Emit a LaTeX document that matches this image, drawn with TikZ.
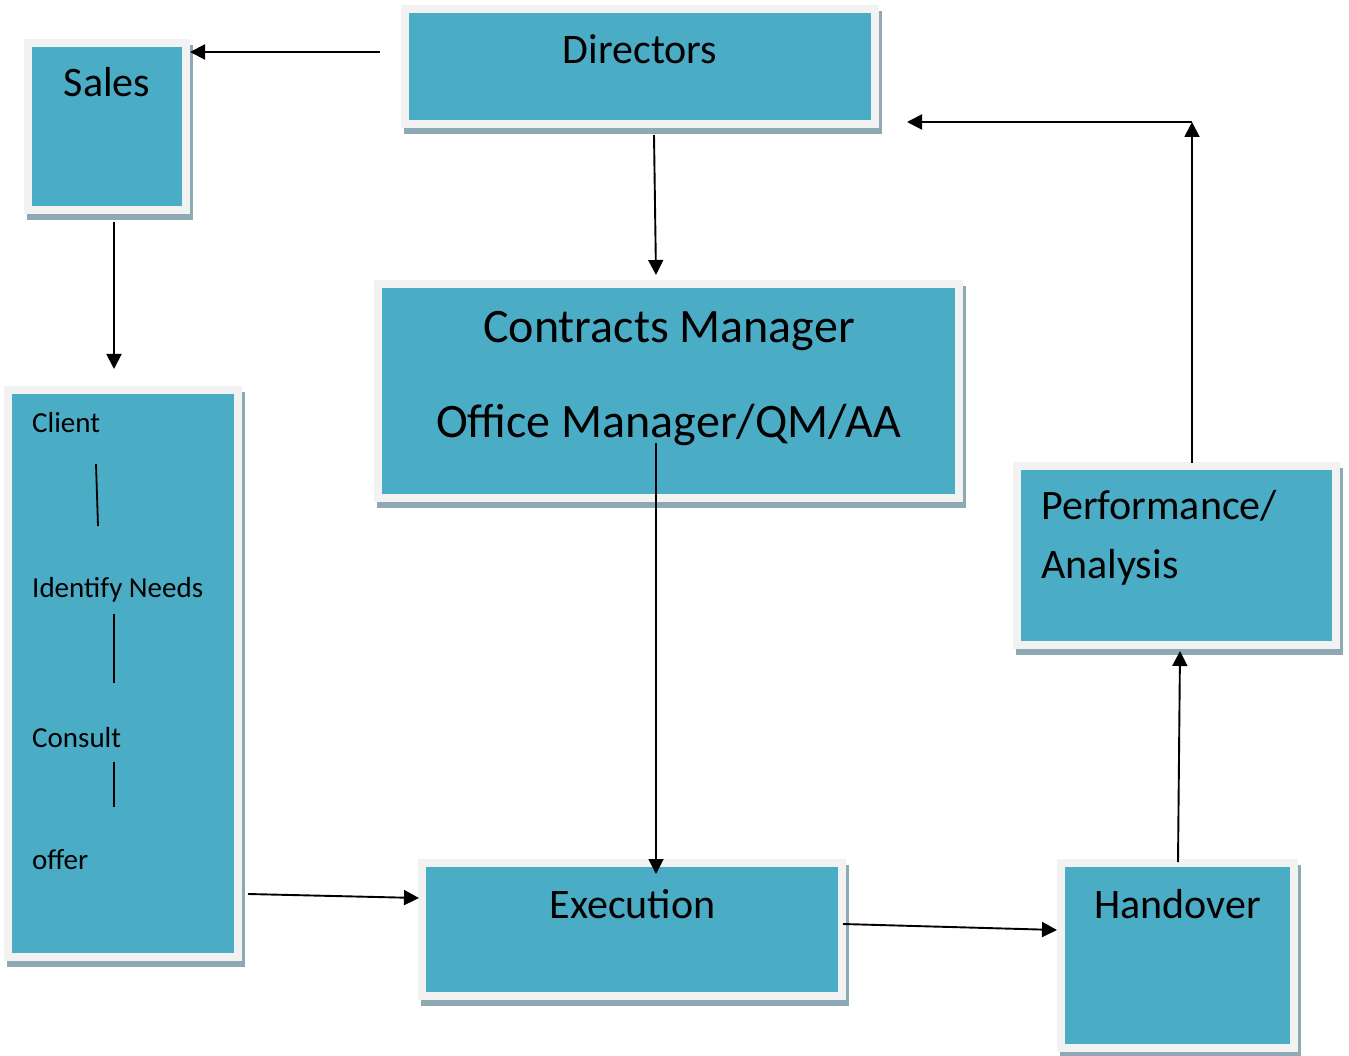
\documentclass[tikz,border=0pt]{standalone}
\usepackage{fontspec}
\setmainfont{Carlito}
\usetikzlibrary{arrows.meta}
\definecolor{teal}{HTML}{4BACC6}
\definecolor{rim}{HTML}{F2F2F2}
\definecolor{shade}{HTML}{8DA9B3}
\tikzset{
  box/.style={rectangle, fill=teal, draw=rim, line width=8pt, inner sep=0pt,
    preaction={draw=shade, fill=shade, line width=8pt, transform canvas={xshift=3pt, yshift=-6pt}}},
  big/.style={inner sep=0pt, anchor=base, font=\fontsize{42}{50}\selectfont},
  huge/.style={inner sep=0pt, anchor=base, font=\fontsize{48}{58}\selectfont},
  small/.style={inner sep=0pt, anchor=base west, font=\fontsize{29}{35}\selectfont},
  arr/.style={line width=1.9pt, -{Triangle[length=15pt, width=15pt]}},
  tick/.style={line width=1.8pt}
}
\begin{document}
\begin{tikzpicture}[x=1pt, y=-1pt]
\useasboundingbox (0,0) rectangle (1349,1056);
% boxes
\node[box, minimum width=158pt, minimum height=167pt] (sales) at (107,126.5) {};
\node[box, minimum width=470pt, minimum height=115pt] (dir) at (640,66.5) {};
\node[box, minimum width=581pt, minimum height=214pt] (cm) at (668.5,391) {};
\node[box, minimum width=230pt, minimum height=567pt] (client) at (123,673.5) {};
\node[box, minimum width=319pt, minimum height=179pt] (perf) at (1176.5,555.5) {};
\node[box, minimum width=420pt, minimum height=133pt] (exec) at (632,929.5) {};
\node[box, minimum width=233pt, minimum height=185pt] (hand) at (1177.5,955.5) {};
% texts
\node[big] (tdir) at (640,64) {Directors};
\node[big] (tsales) at (107,97) {Sales};
\node[huge] (tcm1) at (669,343) {Contracts Manager};
\node[huge] (tcm2) at (668.5,437) {Office Manager/QM/AA};
\node[big, anchor=base west] (tperf1) at (1041,519) {Performance/};
\node[big, anchor=base west] (tperf2) at (1041,578) {Analysis};
\node[big] (texec) at (632.5,918) {Execution};
\node[big] (thand) at (1177.5,918) {Handover};
\node[small] (tc1) at (32,432) {Client};
\node[small] (tc2) at (32,597) {Identify Needs};
\node[small] (tc3) at (32,747) {Consult};
\node[small] (tc4) at (32,869) {offer};
% connector end points
\coordinate (d1) at (380,52);
\coordinate (s1) at (190,52);
\coordinate (d2) at (654,135);
\coordinate (c1) at (656,275);
\coordinate (s2) at (114,222);
\coordinate (k1) at (114,369);
\coordinate (c2) at (656,443);
\coordinate (e1) at (656,874);
\coordinate (k2) at (248,894);
\coordinate (e2) at (419,898);
\coordinate (e3) at (843,924);
\coordinate (h1) at (1057,930);
\coordinate (h2) at (1178,862);
\coordinate (p1) at (1180,651);
\coordinate (p2) at (1192,463);
\coordinate (corner) at (1192,122);
\coordinate (d3) at (907,122);
% connectors
\draw[arr] (d1) -- (s1);
\draw[arr] (d2) -- (c1);
\draw[arr] (s2) -- (k1);
\draw[arr] (c2) -- (e1);
\draw[arr] (k2) -- (e2);
\draw[arr] (e3) -- (h1);
\draw[arr] (h2) -- (p1);
\draw[arr] (p2) -- (corner);
\draw[arr] (corner) -- (d3);
% ticks inside client box
\coordinate (t1a) at (96,464);
\coordinate (t1b) at (98,526);
\coordinate (t2a) at (114,614);
\coordinate (t2b) at (114,683);
\coordinate (t3a) at (114,762);
\coordinate (t3b) at (114,807);
\draw[tick] (t1a) -- (t1b);
\draw[tick] (t2a) -- (t2b);
\draw[tick] (t3a) -- (t3b);
\end{tikzpicture}
\end{document}
